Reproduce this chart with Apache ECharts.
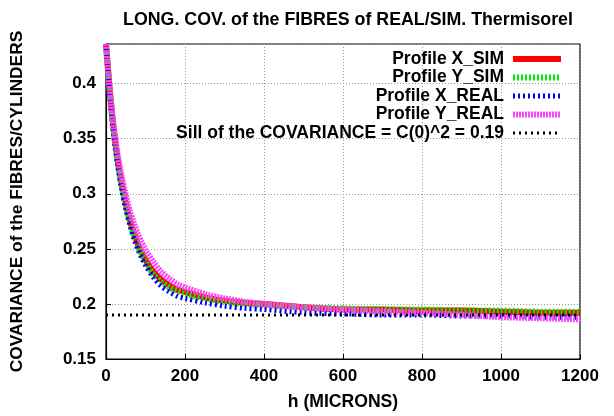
<!DOCTYPE html>
<html>
<head>
<meta charset="utf-8">
<script src="https://cdn.jsdelivr.net/npm/echarts@6/dist/echarts.min.js"></script>
<style>
html,body{margin:0;padding:0;background:#fff;}
#chart{width:614px;height:416px;}
</style>
</head>
<body>
<div id="chart"></div>
<script>
const hValues = [0,10,20,30,40,50,60,70,80,90,100,120,140,160,180,200,250,300,350,400,500,600,700,800,900,1000,1100,1200];
const xSim  = [0.436,0.392,0.357,0.330,0.309,0.292,0.277,0.265,0.255,0.247,0.240,0.229,0.222,0.217,0.213,0.211,0.206,0.203,0.201,0.200,0.197,0.195,0.195,0.194,0.194,0.193,0.192,0.192];
const ySim  = [0.436,0.390,0.354,0.327,0.306,0.289,0.275,0.263,0.253,0.245,0.238,0.227,0.220,0.215,0.212,0.209,0.205,0.202,0.200,0.199,0.197,0.196,0.195,0.195,0.194,0.194,0.193,0.193];
const xReal = [0.436,0.389,0.352,0.325,0.303,0.286,0.272,0.260,0.250,0.242,0.235,0.224,0.216,0.211,0.207,0.205,0.201,0.198,0.196,0.195,0.192,0.191,0.190,0.190,0.189,0.189,0.188,0.188];
const yReal = [0.436,0.393,0.360,0.335,0.315,0.299,0.285,0.274,0.264,0.256,0.249,0.238,0.229,0.223,0.218,0.215,0.209,0.205,0.202,0.200,0.197,0.195,0.193,0.192,0.190,0.188,0.187,0.186];
const sillH = [0,1200];
const sillValue = [0.19,0.19];
const seriesNames = ['Profile X_SIM','Profile Y_SIM','Profile X_REAL','Profile Y_REAL','Sill of the COVARIANCE = C(0)^2 = 0.19'];
const xTicks = [0,200,400,600,800,1000,1200];
const yTicks = [0.15,0.2,0.25,0.3,0.35,0.4];

function pairs(xs, ys){ return xs.map((x,i)=>[x, ys[i]]); }

const chart = echarts.init(document.getElementById('chart'));
const font = '"Liberation Sans", Arial, sans-serif';
const styles = [
  {color:'#ff0000', width:6, type:'solid'},
  {color:'#00ee00', width:6, type:[2,2]},
  {color:'#0000ff', width:5, type:[2,3]},
  {color:'#ff44ff', width:6, type:[2,1]},
  {color:'#000000', width:3, type:[2,4]}
];
const datas = [pairs(hValues,xSim),pairs(hValues,ySim),pairs(hValues,xReal),pairs(hValues,yReal),pairs(sillH,sillValue)];

chart.setOption({
  animation:false,
  backgroundColor:'#fff',
  title:{
    text:'LONG. COV. of the FIBRES of REAL/SIM. Thermisorel',
    left:343, top:6, textAlign:'center',
    textStyle:{fontFamily:font,fontWeight:'bold',fontSize:17.8,color:'#000'}
  },
  legend:{
    orient:'vertical', right:45, top:45, align:'right',
    itemWidth:48, itemHeight:12, itemGap:0.5,
    lineStyle:{width:'inherit'},
    itemStyle:{opacity:0},
    textStyle:{fontFamily:font,fontWeight:'bold',fontSize:17.5,lineHeight:16,color:'#000',width:360,align:'right',padding:[0,4,0,0]},
    data:seriesNames
  },
  grid:{left:106, right:34, top:44, bottom:54, show:true, borderColor:'#000', borderWidth:1.2},
  xAxis:{
    type:'value', min:0, max:1200, interval:200,
    name:'h (MICRONS)', nameLocation:'middle', nameGap:34,
    nameTextStyle:{fontFamily:font,fontWeight:'bold',fontSize:17.6,color:'#000'},
    axisLine:{show:true,lineStyle:{color:'#000',width:1.2}},
    axisTick:{show:true,inside:true,length:5,lineStyle:{color:'#000'}},
    axisLabel:{fontFamily:font,fontWeight:'bold',fontSize:17,color:'#000',margin:9,
      formatter:function(v){ return String(v); }},
    splitLine:{show:true,lineStyle:{color:'#999',type:[1,2],width:1}}
  },
  yAxis:{
    type:'value', min:0.15, max:0.436, interval:0.05,
    name:'COVARIANCE of the FIBRES/CYLINDERS', nameLocation:'middle', nameGap:80,
    nameTextStyle:{fontFamily:font,fontWeight:'bold',fontSize:17.4,color:'#000'},
    axisLine:{show:true,lineStyle:{color:'#000',width:1.2}},
    axisTick:{show:true,inside:true,length:5,lineStyle:{color:'#000'}},
    axisLabel:{fontFamily:font,fontWeight:'bold',fontSize:17,color:'#000',margin:10,showMaxLabel:false,
      formatter:function(v){ return yTicks.some(t=>Math.abs(t-v)<1e-6) ? String(+v.toFixed(2)) : ''; }},
    splitLine:{show:true,lineStyle:{color:'#999',type:[1,2],width:1}}
  },
  series: seriesNames.map((n,i)=>({
    name:n, type:'line', data:datas[i], symbol:'none', smooth:i<4 ? 0.3 : false,
    lineStyle:{color:styles[i].color,width:styles[i].width,type:styles[i].type},
    itemStyle:{color:styles[i].color},
    z:2+i
  }))
});
</script>
</body>
</html>
